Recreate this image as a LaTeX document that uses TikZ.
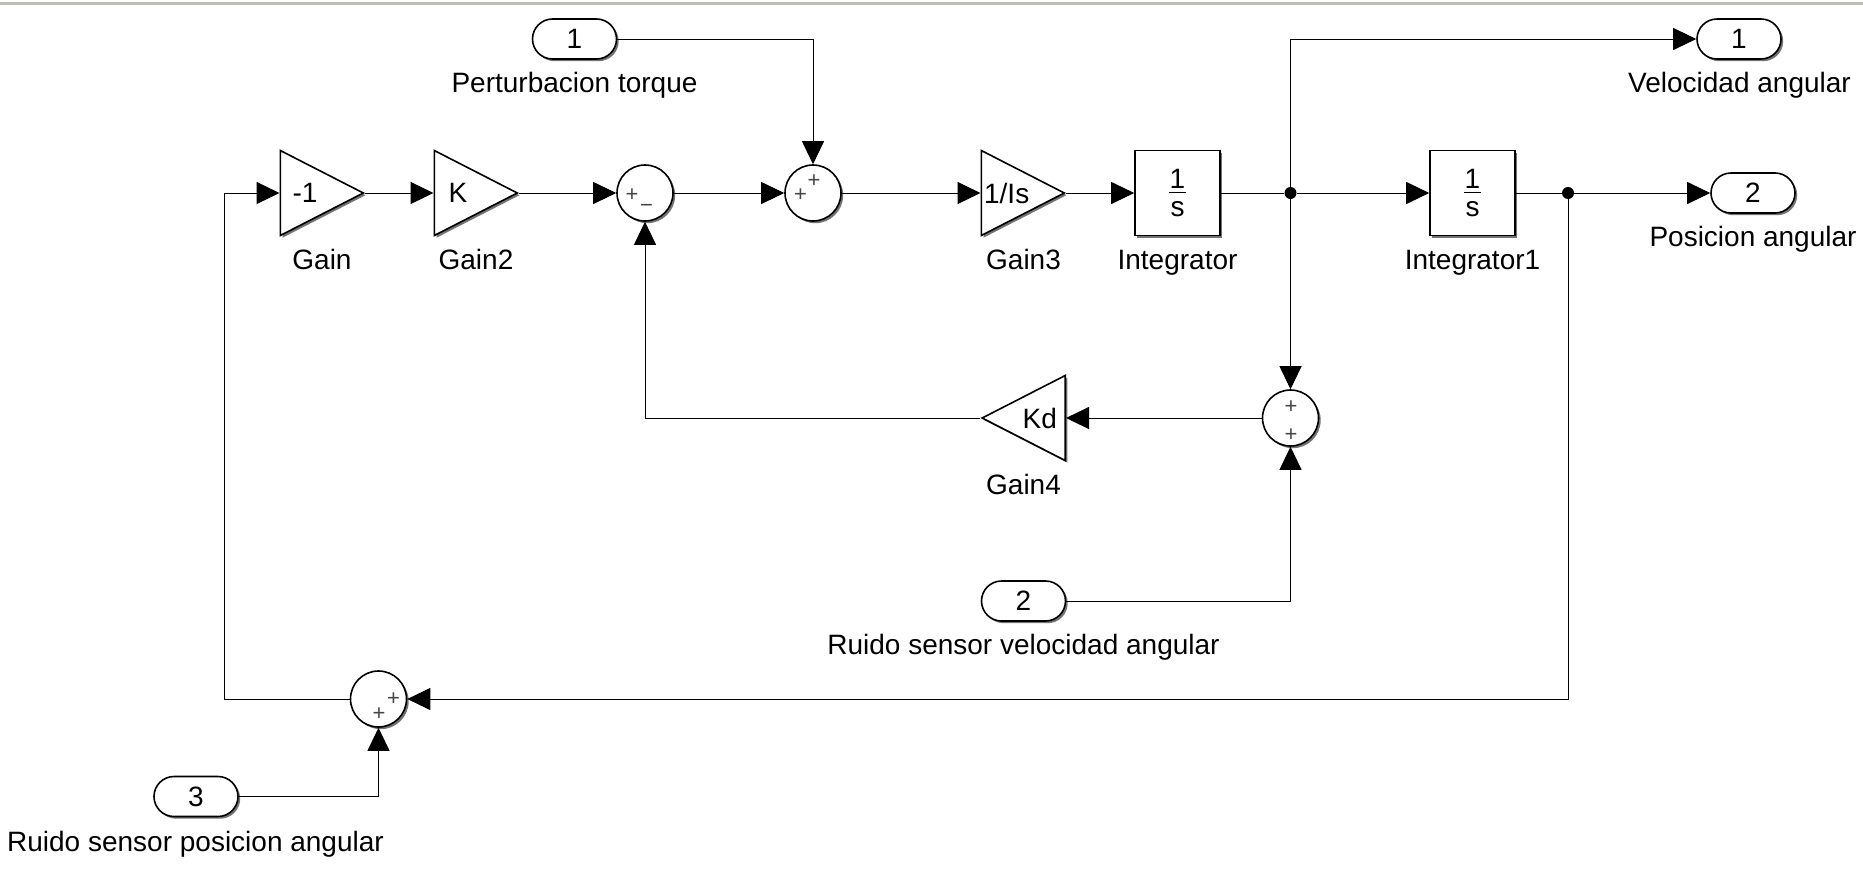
\documentclass[tikz,border=0pt]{standalone}
\usepackage{fontspec}
\setmainfont{Liberation Sans}
\usepackage{amsmath}
\usetikzlibrary{shapes.geometric,shapes.misc,shadows,arrows.meta}
\definecolor{framegray}{RGB}{190,190,185}
\definecolor{signgray}{RGB}{70,70,70}
\newcommand{\oneovers}{$\genfrac{}{}{0.6pt}{1}{\makebox[8.5pt]{1}}{\makebox[8.5pt]{\rule{0pt}{11pt}s}}$}

\begin{document}
\begin{tikzpicture}[
        x=0.5pt, y=-0.5pt,
        font=\fontsize{14}{16}\selectfont,
        shade/.style={drop shadow={shadow xshift=1.1pt, shadow yshift=-1.1pt, opacity=0.55, fill=black}},
        gainblk/.style={isosceles triangle, isosceles triangle stretches, draw=black, fill=white, line width=0.8pt, inner sep=0pt, minimum width=42.5pt, minimum height=41.5pt, shade, anchor=lower side},
        intblk/.style={rectangle, draw=black, fill=white, line width=0.8pt, inner sep=0pt, minimum size=42.5pt, shade},
        sumblk/.style={circle, draw=black, fill=white, line width=0.8pt, inner sep=0pt, minimum size=28pt, shade},
        port/.style={rounded rectangle, draw=black, fill=white, line width=0.8pt, inner sep=0pt, minimum width=42pt, minimum height=20pt, shade},
        sign/.style={inner sep=0pt, text=signgray, font=\fontsize{11}{11}\selectfont},
        blklabel/.style={anchor=base, inner sep=0pt},
        dot/.style={circle, fill=black, inner sep=0pt, minimum size=6pt},
        wire/.style={line width=0.5pt},
        arrow/.style={wire, -{Triangle[length=11.5pt, width=11pt]}}
    ]
        \useasboundingbox (0,0) rectangle (1863,868);
        \fill[framegray] (0,2) rectangle (1863,5);

        \node[port] (inpert) at (574.5,39) {1};
        \node[port] (invel) at (1023.5,601) {2};
        \node[port] (inpos) at (196,796.5) {3};
        \node[port] (outvel) at (1739,39) {1};
        \node[port] (outpos) at (1753,193) {2};

        \node[gainblk] (gain) at (279.5,193) {-1};
        \node[gainblk] (gaintwo) at (433.5,193) {K};
        \node[gainblk] (gainthree) at (980.5,193) {\hspace*{-2pt}1/Is};
        \node[gainblk, shape border rotate=180] (gainfour) at (1066,418) {\hspace*{1pt}Kd};
        \node[intblk] (integ) at (1177.5,193) {\oneovers};
        \node[intblk] (integone) at (1472.5,193) {\oneovers};

        \node[sumblk] (suma) at (645,193) {};
        \node[sumblk] (sumb) at (813,193) {};
        \node[sumblk] (sumc) at (1290.5,418) {};
        \node[sumblk] (sumd) at (378.5,699) {};

        \node[sign] (sapos) at (632,195) {+};
        \node[sign] (saneg) at (646.5,208) {−};
        \node[sign] (sbleft) at (800.5,195) {+};
        \node[sign] (sbtop) at (814,181) {+};
        \node[sign] (sctop) at (1291,407) {+};
        \node[sign] (scbot) at (1291,435) {+};
        \node[sign] (sdright) at (393.5,699.5) {+};
        \node[sign] (sdbot) at (379,714) {+};

        \node[dot] (jvel) at (1290.5,193) {};
        \node[dot] (jpos) at (1568,193) {};
        \coordinate (fbk) at (224.5,193);

        \node[blklabel] (lpert) at (574.5,92.5) {Perturbacion torque};
        \node[blklabel] (lvel) at (1739.5,92.5) {Velocidad angular};
        \node[blklabel] (lpos) at (1753,246.5) {Posicion angular};
        \node[blklabel] (lgain) at (322,269) {Gain};
        \node[blklabel] (lgaintwo) at (476,269) {Gain2};
        \node[blklabel] (lgainthree) at (1023.5,269) {Gain3};
        \node[blklabel] (linteg) at (1177.5,269) {Integrator};
        \node[blklabel] (lintegone) at (1472.5,269) {Integrator1};
        \node[blklabel] (lgainfour) at (1023.5,494) {Gain4};
        \node[blklabel] (lruidovel) at (1023.5,654) {Ruido sensor velocidad angular};
        \node[blklabel] (lruidopos) at (195.5,851) {Ruido sensor posicion angular};

        \draw[arrow] (gain.apex) -- (gaintwo.lower side);
        \draw[arrow] (gaintwo.apex) -- (suma);
        \draw[arrow] (suma) -- (sumb);
        \draw[arrow] (sumb) -- (gainthree.lower side);
        \draw[arrow] (gainthree.apex) -- (integ);
        \draw[wire] (integ) -- (jvel);
        \draw[arrow] (jvel) -- (integone);
        \draw[wire] (integone) -- (jpos);
        \draw[arrow] (jpos) -- (outpos);
        \draw[arrow] (jvel) |- (outvel);
        \draw[arrow] (jvel) -- (sumc);
        \draw[arrow] (inpert) -| (sumb);
        \draw[arrow] (invel) -| (sumc);
        \draw[arrow] (sumc) -- (gainfour.lower side);
        \draw[arrow] (gainfour.apex) -| (suma);
        \draw[arrow] (jpos) |- (sumd);
        \draw[arrow] (inpos) -| (sumd);
        \draw[arrow] (sumd) -| (fbk) -- (gain.lower side);
    \end{tikzpicture}
\end{document}
